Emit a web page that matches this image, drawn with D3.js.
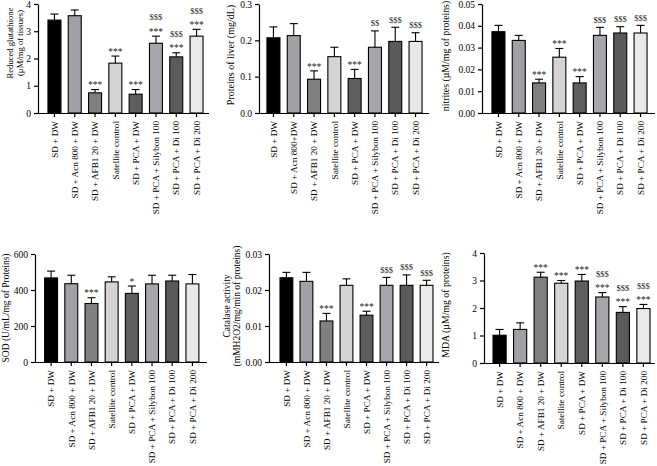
<!DOCTYPE html>
<html>
<head>
<meta charset="utf-8">
<script src="https://cdn.jsdelivr.net/npm/d3@7"></script>
<style>
body { margin: 0; background: #fff; }
svg { display: block; font-family: "Liberation Serif", "Times New Roman", serif; }
</style>
</head>
<body>
<svg id="chart" width="657" height="466"></svg>
<script>
// groups (x categories)
var groups = ["SD + DW", "SD + Acn 800 + DW", "SD + AFB1 20 + DW", "Satellite control",
	"SD + PCA + DW", "SD + PCA + Silybon 100", "SD + PCA + Di 100", "SD + PCA + Di 200"];
var groupsProteins = ["SD + DW", "SD + Acn 800+DW", "SD + AFB1 20 + DW", "Satellite control",
	"SD + PCA + DW", "SD + PCA + Silybon 100", "SD + PCA + Di 100", "SD + PCA + Di 200"];

// reduced glutathione
var glutathioneMean = [3.41, 3.57, 0.74, 1.83, 0.69, 2.56, 2.06, 2.82];
var glutathioneSem = [0.22, 0.21, 0.12, 0.26, 0.17, 0.26, 0.15, 0.25];
var glutathioneStars = ["", "", "***", "***", "***", "***", "***", "***"];
var glutathioneDollars = ["", "", "", "", "", "$$$", "$$$", "$$$"];
var glutathioneTicks = [0, 1, 2, 3, 4];

// proteins of liver
var proteinsMean = [0.207, 0.213, 0.093, 0.155, 0.095, 0.181, 0.197, 0.197];
var proteinsSem = [0.030, 0.033, 0.023, 0.026, 0.025, 0.045, 0.039, 0.024];
var proteinsStars = ["", "", "***", "", "***", "", "", ""];
var proteinsDollars = ["", "", "", "", "", "$$", "$$$", "$$$"];
var proteinsTicks = [0, 0.1, 0.2, 0.3];

// nitrites
var nitritesMean = [0.0373, 0.0333, 0.0138, 0.0256, 0.0138, 0.0356, 0.0367, 0.0367];
var nitritesSem = [0.0029, 0.0023, 0.0017, 0.0040, 0.0029, 0.0037, 0.0029, 0.0035];
var nitritesStars = ["", "", "***", "***", "***", "", "", ""];
var nitritesDollars = ["", "", "", "", "", "$$$", "$$$", "$$$"];
var nitritesTicks = [0, 0.01, 0.02, 0.03, 0.04, 0.05];

// SOD
var sodMean = [467, 435, 325, 445, 381, 434, 450, 434];
var sodSem = [38, 47, 32, 28, 41, 48, 32, 52];
var sodStars = ["", "", "***", "", "*", "", "", ""];
var sodDollars = ["", "", "", "", "", "", "", ""];
var sodTicks = [0, 200, 400, 600];

// catalase
var catalaseMean = [0.0234, 0.0224, 0.0114, 0.0213, 0.0130, 0.0213, 0.0213, 0.0213];
var catalaseSem = [0.0015, 0.0025, 0.0021, 0.0018, 0.0011, 0.0022, 0.0029, 0.0014];
var catalaseStars = ["", "", "***", "", "***", "", "", ""];
var catalaseDollars = ["", "", "", "", "", "$$$", "$$$", "$$$"];
var catalaseTicks = [0, 0.01, 0.02, 0.03];

// MDA
var mdaMean = [1.01, 1.22, 3.12, 2.90, 2.98, 2.40, 1.84, 1.98];
var mdaSem = [0.21, 0.24, 0.18, 0.10, 0.24, 0.16, 0.21, 0.15];
var mdaStars = ["", "", "***", "***", "***", "***", "***", "***"];
var mdaDollars = ["", "", "", "", "", "$$$", "$$$", "$$$"];
var mdaTicks = [0, 1, 2, 3, 4];

var barColors = ["#000000", "#a0a0a6", "#808083", "#d4d4d4", "#5e5e60", "#a5a5ab", "#5a5a5c", "#e9e9e9"];

var panels = [
	{mean: glutathioneMean, sem: glutathioneSem, stars: glutathioneStars, dollars: glutathioneDollars,
	 ticks: glutathioneTicks, fmt: "d", labels: groups,
	 title: ["Reduced glutathione", "(µM/mg of tissues)"], titleX: [10, 20], titleY: 43, titleSize: 8.6,
	 axisX: 38, left: 44.3, right: 206.7, top: 4, bottom: 113, end: 209},
	{mean: proteinsMean, sem: proteinsSem, stars: proteinsStars, dollars: proteinsDollars,
	 ticks: proteinsTicks, fmt: ".1f", labels: groupsProteins,
	 title: ["Proteins of liver (mg/dL)"], titleX: [230], titleY: 55, titleSize: 10,
	 axisX: 259, left: 263.3, right: 425.7, top: 4, bottom: 113, end: 429},
	{mean: nitritesMean, sem: nitritesSem, stars: nitritesStars, dollars: nitritesDollars,
	 ticks: nitritesTicks, fmt: ".2f", labels: groups,
	 title: ["nitrites (µM/mg of proteins)"], titleX: [446], titleY: 56, titleSize: 9.8,
	 axisX: 482, left: 488.3, right: 650.7, top: 4, bottom: 113, end: 655},
	{mean: sodMean, sem: sodSem, stars: sodStars, dollars: sodDollars,
	 ticks: sodTicks, fmt: "d", labels: groups,
	 title: ["SOD (U/mL/mg of Proteins)"], titleX: [6], titleY: 308, titleSize: 9.5,
	 axisX: 35, left: 41, right: 202.5, top: 254, bottom: 362, end: 207},
	{mean: catalaseMean, sem: catalaseSem, stars: catalaseStars, dollars: catalaseDollars,
	 ticks: catalaseTicks, fmt: ".2f", labels: groups,
	 title: ["Catalase activity", "(mMH2O2/mg/min of proteins)"], titleX: [227, 237], titleY: 306, titleSize: 9.5,
	 axisX: 269, left: 276.4, right: 436.6, top: 254, bottom: 362, end: 439},
	{mean: mdaMean, sem: mdaSem, stars: mdaStars, dollars: mdaDollars,
	 ticks: mdaTicks, fmt: "d", labels: groups,
	 title: ["MDA (µM/mg of proteins)"], titleX: [446], titleY: 305, titleSize: 9.8,
	 axisX: 484, left: 489.3, right: 653.7, top: 253, bottom: 363, end: 655}
];

var svg = d3.select("#chart");

panels.forEach(function(p) {
	var g = svg.append("g");
	var idx = d3.range(p.mean.length);

	var x = d3.scaleBand()
		.domain(idx)
		.range([p.left, p.right])
		.paddingInner(0.36)
		.paddingOuter(0.18);

	var y = d3.scaleLinear()
		.domain([0, p.ticks[p.ticks.length - 1]])
		.range([p.bottom, p.top]);

	// bars
	g.append("g").selectAll("rect")
		.data(idx)
		.enter().append("rect")
		.attr("x", function(i) { return x(i); })
		.attr("y", function(i) { return y(p.mean[i]); })
		.attr("width", x.bandwidth())
		.attr("height", function(i) { return y(0) - y(p.mean[i]); })
		.attr("fill", function(i) { return barColors[i]; })
		.attr("stroke", "#000")
		.attr("stroke-width", 1.1);

	// error bars (upper only)
	var err = g.append("g").attr("stroke", "#000").attr("stroke-width", 1.1);
	err.selectAll("line.v")
		.data(idx)
		.enter().append("line")
		.attr("class", "v")
		.attr("x1", function(i) { return x(i) + x.bandwidth() / 2; })
		.attr("x2", function(i) { return x(i) + x.bandwidth() / 2; })
		.attr("y1", function(i) { return y(p.mean[i]); })
		.attr("y2", function(i) { return y(p.mean[i] + p.sem[i]); });
	err.selectAll("line.cap")
		.data(idx)
		.enter().append("line")
		.attr("class", "cap")
		.attr("x1", function(i) { return x(i) + x.bandwidth() / 2 - 4; })
		.attr("x2", function(i) { return x(i) + x.bandwidth() / 2 + 4; })
		.attr("y1", function(i) { return y(p.mean[i] + p.sem[i]); })
		.attr("y2", function(i) { return y(p.mean[i] + p.sem[i]); });

	// significance marks
	var marks = g.append("g")
		.attr("font-size", 9.5)
		.attr("text-anchor", "middle")
		.attr("fill", "#222");
	idx.forEach(function(i) {
		var cx = x(i) + x.bandwidth() / 2,
			top = y(p.mean[i] + p.sem[i]);
		if (p.stars[i]) {
			marks.append("text").attr("x", cx).attr("y", top - 1.3).text(p.stars[i]);
		}
		if (p.dollars[i]) {
			marks.append("text")
				.attr("x", cx)
				.attr("y", p.stars[i] ? top - 15.7 : top - 4.7)
				.attr("font-size", 8.5)
				.text(p.dollars[i]);
		}
	});

	// y axis
	var ya = g.append("g")
		.attr("transform", "translate(" + p.axisX + ",0)")
		.call(d3.axisLeft(y).tickValues(p.ticks).tickFormat(d3.format(p.fmt)).tickSize(4).tickPadding(3).tickSizeOuter(0))
		.attr("font-family", null)
		.attr("font-size", 9.5);
	ya.selectAll("path, line").attr("stroke-width", 1.2);

	// x axis
	var xa = g.append("g")
		.attr("transform", "translate(0," + p.bottom + ")")
		.call(d3.axisBottom(x).tickSize(4).tickSizeOuter(0).tickFormat(function(i) { return p.labels[i]; }))
		.attr("font-family", null)
		.attr("font-size", 9.2);
	xa.select(".domain").attr("d", "M" + p.axisX + ",0.5H" + p.end);
	xa.selectAll("path, line").attr("stroke-width", 1.2);
	xa.selectAll(".tick text")
		.attr("transform", "rotate(-90)")
		.attr("text-anchor", "end")
		.attr("x", -8)
		.attr("y", 0)
		.attr("dy", "0.35em");

	// y title
	p.title.forEach(function(t, k) {
		g.append("text")
			.attr("transform", "translate(" + p.titleX[k] + "," + p.titleY + ") rotate(-90)")
			.attr("text-anchor", "middle")
			.attr("dy", "0.35em")
			.attr("font-size", p.titleSize)
			.text(t);
	});
});
</script>
</body>
</html>
